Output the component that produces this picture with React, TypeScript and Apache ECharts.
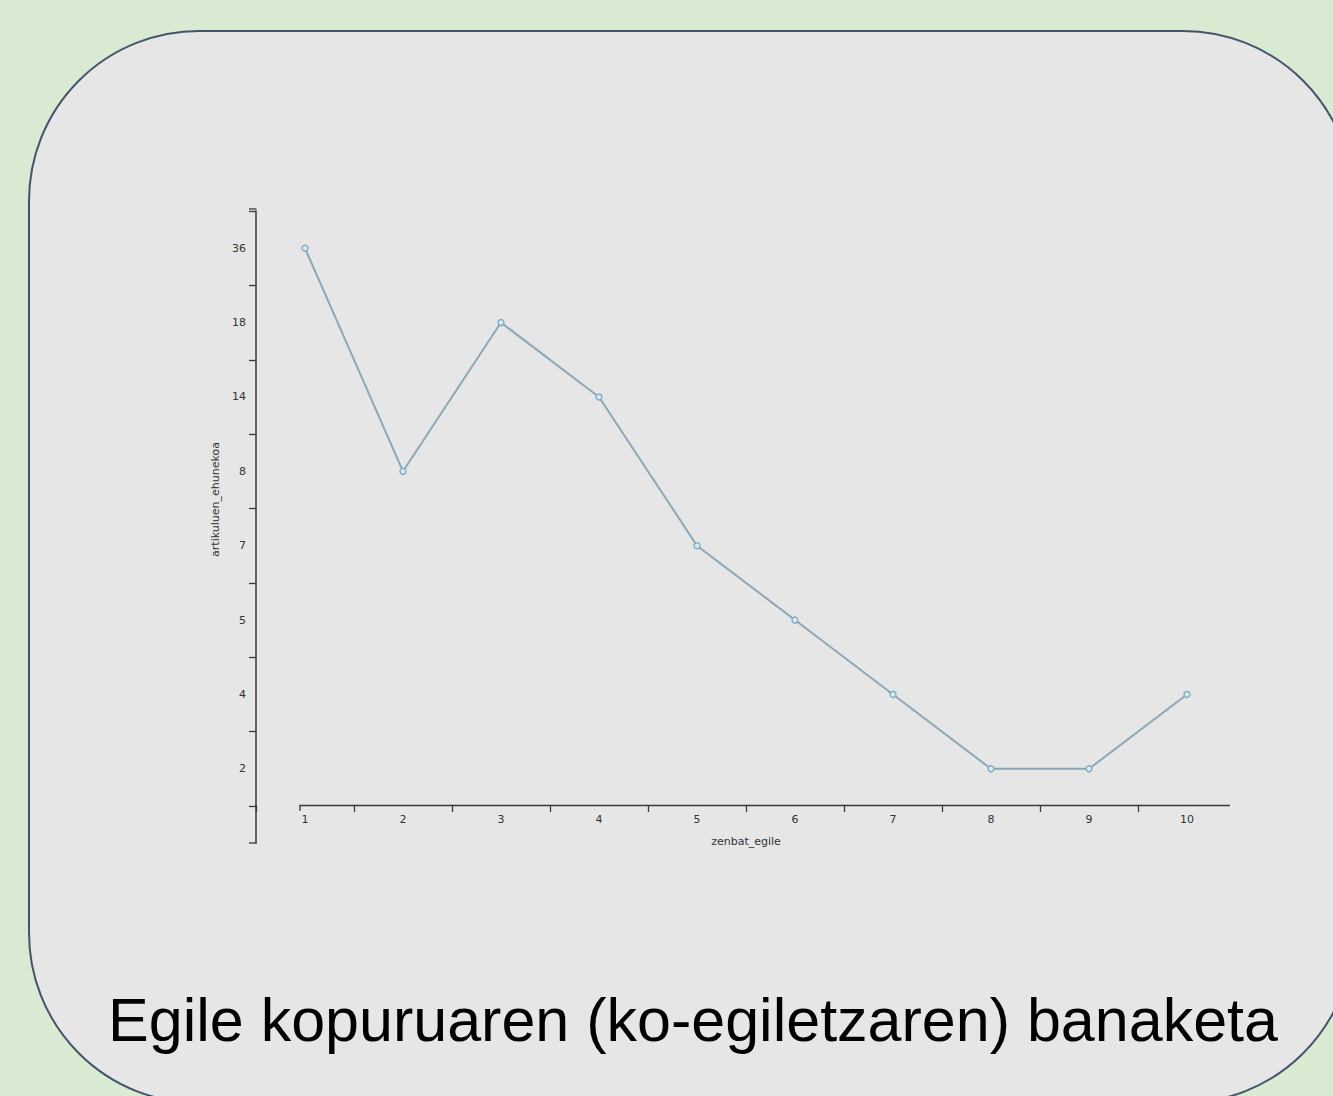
import React, { useEffect, useRef } from "react";
import * as echarts from "echarts";

const xCategories = ["1", "2", "3", "4", "5", "6", "7", "8", "9", "10"];
const yCategories = ["2", "4", "5", "7", "8", "14", "18", "36"];
const seriesValues = ["36", "8", "18", "14", "7", "5", "4", "2", "2", "4"];
const titleText = "Egile kopuruaren (ko-egiletzaren) banaketa";
const xName = "zenbat_egile";
const yName = "artikuluen_ehunekoa";

const AXIS_COLOR = "#3a3a3a";
const LABEL_COLOR = "#333333";
const FONT = "DejaVu Sans";
const PANEL = "#e6e6e6";

export default function App() {
  const ref = useRef<HTMLDivElement>(null);
  useEffect(() => {
    if (!ref.current) return;
    const chart = echarts.init(ref.current, undefined, { renderer: "svg" });
    chart.setOption({
      animation: false,
      backgroundColor: "#d9ead3",
      grid: { left: 256, right: 97, top: 211, bottom: 290, containLabel: false },
      xAxis: {
        type: "category",
        data: xCategories,
        boundaryGap: true,
        name: xName,
        nameLocation: "middle",
        nameGap: 30,
        nameTextStyle: { fontFamily: FONT, fontSize: 11, color: LABEL_COLOR },
        axisLine: { show: false },
        axisTick: { show: true, length: 6, lineStyle: { color: AXIS_COLOR, width: 1.3 } },
        axisLabel: { fontFamily: FONT, fontSize: 11, color: LABEL_COLOR, margin: 8 },
        splitLine: { show: false },
      },
      yAxis: {
        type: "category",
        data: yCategories,
        boundaryGap: true,
        name: yName,
        nameLocation: "middle",
        nameGap: 33,
        nameRotate: 90,
        nameTextStyle: { fontFamily: FONT, fontSize: 11, color: LABEL_COLOR, padding: [0, 0, 0, 18] },
        axisLine: { show: true, lineStyle: { color: AXIS_COLOR, width: 1.5 } },
        axisTick: { show: true, length: 7, lineStyle: { color: AXIS_COLOR, width: 1.3 } },
        axisLabel: { fontFamily: FONT, fontSize: 11, color: LABEL_COLOR, margin: 10 },
        splitLine: { show: false },
      },
      series: [
        {
          type: "line",
          data: seriesValues,
          symbol: "circle",
          symbolSize: 6,
          showSymbol: true,
          lineStyle: { color: "#8ba7b8", width: 2 },
          itemStyle: { color: "#d8e8f0", borderColor: "#7aa8c2", borderWidth: 1.3 },
          z: 5,
        },
      ],
      graphic: [
        {
          type: "rect",
          z: -10,
          silent: true,
          shape: { x: 29, y: 31, width: 1324, height: 1072, r: 170 },
          style: { fill: PANEL, stroke: "#44546a", lineWidth: 2 },
        },
        {
          type: "rect",
          z: 20,
          silent: true,
          shape: { x: 1231, y: 803, width: 10, height: 12 },
          style: { fill: PANEL },
        },
        {
          type: "line",
          z: 10,
          shape: { x1: 256, y1: 805, x2: 256, y2: 843.5 },
          style: { stroke: AXIS_COLOR, lineWidth: 1.5 },
        },
        {
          type: "line",
          z: 10,
          shape: { x1: 249, y1: 843, x2: 256.5, y2: 843 },
          style: { stroke: AXIS_COLOR, lineWidth: 1.3 },
        },
        {
          type: "line",
          z: 10,
          shape: { x1: 249, y1: 209, x2: 256.5, y2: 209 },
          style: { stroke: AXIS_COLOR, lineWidth: 1.3 },
        },
        {
          type: "line",
          z: 10,
          shape: { x1: 299.5, y1: 805.5, x2: 1230, y2: 805.5 },
          style: { stroke: AXIS_COLOR, lineWidth: 1.5 },
        },
        {
          type: "line",
          z: 10,
          shape: { x1: 300, y1: 805, x2: 300, y2: 811 },
          style: { stroke: AXIS_COLOR, lineWidth: 1.3 },
        },
        {
          type: "text",
          z: 10,
          x: 693,
          y: 1020,
          style: {
            text: titleText,
            fontFamily: "Liberation Sans, Arial, sans-serif",
            fontSize: 61,
            fill: "#000000",
            align: "center",
            verticalAlign: "middle",
          },
        },
      ],
    });
    return () => chart.dispose();
  }, []);
  return (
    <div
      ref={ref}
      style={{ position: "absolute", left: 0, top: 0, width: 1333, height: 1096 }}
    />
  );
}
